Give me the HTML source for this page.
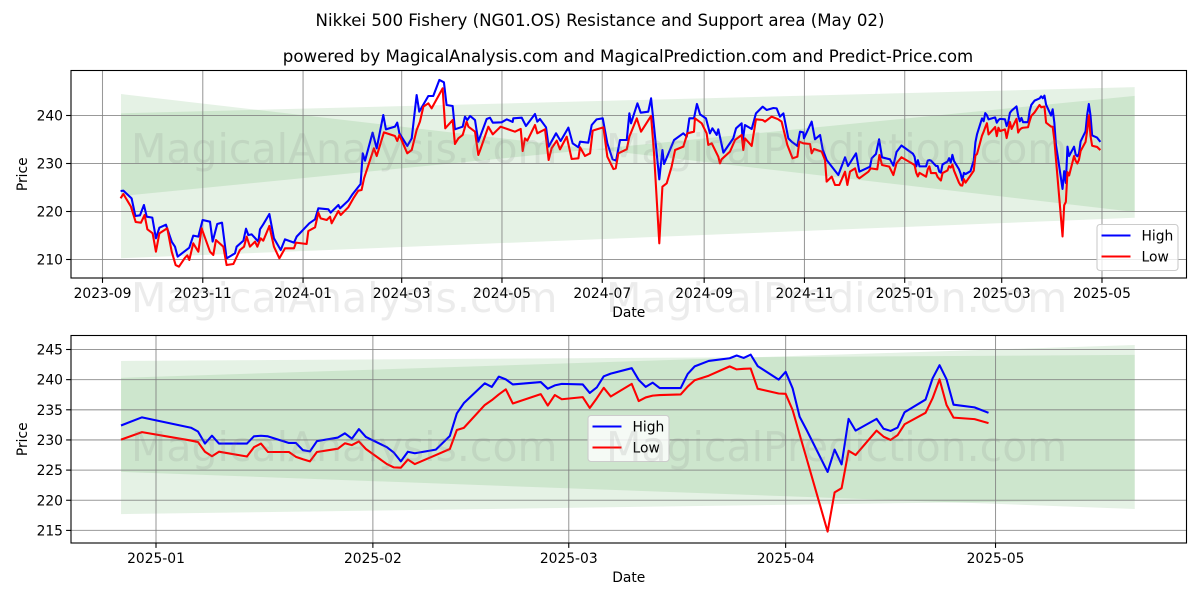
<!DOCTYPE html>
<html>
<head>
<meta charset="utf-8">
<title>Nikkei 500 Fishery (NG01.OS) Resistance and Support area</title>
<style>
html,body{margin:0;padding:0;background:#fff;width:1200px;height:600px;overflow:hidden}
svg{display:block}
text{font-family:"DejaVu Sans","Liberation Sans",sans-serif;fill:#000}
</style>
</head>
<body>
<svg id="figure" xmlns="http://www.w3.org/2000/svg" width="1200" height="600" viewBox="0 0 1200 600">
<rect x="0" y="0" width="1200" height="600" fill="#fff"/>
<g id="chart-top"></g>
<g id="chart-bottom"></g>
<g id="watermarks"></g>
<text x="600" y="26" text-anchor="middle" font-size="16.62">Nikkei 500 Fishery (NG01.OS) Resistance and Support area (May 02)</text>
<text x="628" y="62" text-anchor="middle" font-size="16.62">powered by MagicalAnalysis.com and MagicalPrediction.com and Predict-Price.com</text>
</svg>
<script>
// All days are counted from 2023-09-01.
const earlyHighDays = [11,12.7,17.7,20,22.8,25.2,26.9,30.3,32.5,34.6,38.6,42.1,44.1,45.7,52.8,55.2,58.3,60.9,65.4,67,69.8,72.7,75.5,80.6,81.6,85.7,87.3,88.7,90.7,94.8,95.8,97.8,101.5,104.3,108.4,111,116.5,118.1,125.8,129.3,131.3,137.4,138.8,143.5,144.5,149.5,152.2,157,158.3,159.7,164.3,166.8,170.8,172.4,177.9,179.3,180.6,185.4,188.1,191.1,192.7,198.2,201.2,204.9,207.7,209.3,213,214.4,219.1,220.5,221.9,223.6,226.6,228.6,233.7,235.7,237.4,242.8,245.9,249.5,249.9,255,257.6,263.1,264.5,266.1,269.8,271.4,275.9,278.7,283.4,286,289.5,290.5,295.5,297.6,300.6,304.3,307.1,310.3,312.4,314.8,318.9,320.5,321.5,325.4,327.4,332,333.7,335.5,338.7,340.6,341.6,347.7,353.3,355.4,357,359.8,361.6,363.5,367.1,369.5,371,373.6,374.6,377.7,383.7,385.4,388.8,389.4,390.8,394.9,397.5,401.6,404,408.1,410.1,412.1,414.2,417.2,419.2,422.7,424.3,426.3,426.7,431.4,433.4,436.5,438.1,440.5,447.6,451.7,453.5,458.4,460.4,466.9,467.9,470.5,472.4,474.2,479,481.1];
const earlyHighValues = [224.27,224.34,222.74,219.06,219.2,221.35,218.92,218.72,214.41,216.63,217.26,213.72,212.67,210.59,212.47,214.97,214.76,218.23,217.88,213.72,217.4,217.67,210.24,211.29,212.67,213.92,216.42,215.1,215.24,213.72,216.29,217.33,219.48,214.41,211.98,214.2,213.51,214.76,217.54,218.37,220.66,220.45,219.76,221.35,220.66,222.26,223.65,225.73,232.12,230.59,236.42,233.16,240.1,237.12,237.67,238.51,236.29,233.65,235.24,244.27,240.8,244.06,244.06,247.4,246.91,242.19,241.98,237.12,237.67,239.76,239.06,239.9,239.06,234.55,239.27,239.55,238.51,238.58,239.2,238.65,239.41,239.55,237.81,240.31,238.72,239.27,237.54,233.51,236.29,234.69,237.47,234.2,233.37,234.55,234.34,238.02,239.2,239.41,234.2,230.87,230.59,234.9,234.9,240.45,238.37,242.54,240.59,240.8,243.58,237.67,226.7,232.81,229.9,234.9,236.29,235.59,239.41,239.41,242.4,240.24,239.41,236.29,237.33,235.94,237.12,232.26,235.24,237.33,238.37,234.55,238.02,237.19,240.45,241.84,241.15,241.56,241.49,239.76,240.45,235.24,234.55,233.65,236.63,236.49,235.24,238.72,235.04,235.94,232.95,230.73,227.6,231.29,229.48,232.12,228.3,229.34,231.08,231.98,235.04,231.29,230.87,229.55];
const earlyLowDays = [11,12.7,17.3,20.2,23.4,25.6,27.3,30.5,32.5,34.6,39.4,42.1,44.5,46.5,50.2,51.6,52.8,55.2,58.3,60.3,65.4,67.4,69,73.5,75.5,79.6,83.6,86.1,87.7,89.7,92.8,94.2,96.2,97.8,101.5,104.3,107.6,111,116.5,117.7,124.2,125.2,129.3,131.3,132.7,136.4,138.4,139.4,143.5,144.9,149.5,152.6,155.6,157.6,159.1,165.1,166.8,171.2,177.9,179.3,180.6,185.4,188.1,191.1,193.1,195.2,198.2,200.2,206.9,208.5,213,214.4,216.5,219.1,221.5,222.6,226.6,228.6,230.1,234.7,237.4,242.2,250.9,254.4,255.6,257,258.4,263.1,264.5,269.2,271.4,273.2,276.3,278.3,282.4,285.4,289.5,290.5,293.5,296.6,298.2,304.7,307.1,310.8,312.2,313.8,318.9,320.5,325,327.6,333.7,335.5,338.7,340.6,343.2,346.2,348.3,353.3,355.8,359.8,360.4,364.5,367.5,368.5,370.6,374.6,375.6,376.6,381.7,384.8,388.8,389.8,390.8,394.9,397.5,401.6,403,407,411.1,413.1,416.6,419.8,422.7,423.9,426.3,430.4,431.4,432.8,437.5,439.5,440.5,443.6,445.6,448.2,451.7,453.1,454.7,457.8,459.2,460.4,465.9,467.3,471.3,472.6,474.2,478.6,481.1];
const earlyLowValues = [222.74,223.65,221.01,217.81,217.67,219.27,216.29,215.45,211.63,215.45,216.5,211.63,208.85,208.51,210.38,210.87,209.9,213.37,211.63,216.5,211.63,210.94,214.06,212.67,208.85,209.06,211.98,212.67,214.76,212.67,213.72,212.67,214.41,213.92,216.98,212.67,210.24,212.33,212.33,213.51,213.23,215.94,216.7,219.76,218.58,218.23,218.92,217.54,220.1,219.27,220.87,222.74,224.34,224.48,226.91,233.16,231.56,236.49,235.73,234.69,235.94,232.12,232.81,236.98,238.72,241.84,242.54,241.49,245.66,237.33,239.06,234.06,235.24,235.94,238.72,237.67,236.63,231.77,233.16,237.67,236.08,237.67,236.63,237.19,232.6,235.24,234.76,238.02,236.29,237.12,230.73,233.16,234.76,232.95,235.59,230.94,231.08,233.37,231.56,232.12,236.84,237.54,231.42,228.85,228.99,232.12,232.95,235.59,239.41,236.63,239.9,232.12,213.37,225.18,225.87,229.34,232.81,233.51,236.29,236.63,239.41,238.37,236.29,233.86,234.2,231.42,230.03,230.87,232.47,234.9,235.94,232.81,235.24,233.65,239.2,239.06,238.72,239.76,239.2,238.72,233.86,231.08,231.42,234.55,234.2,234.06,232.12,233.02,232.47,230.73,226.22,227.26,225.52,225.52,228.3,225.52,228.3,228.99,227.26,226.91,228.3,228.99,228.79,231.77,229.69,229.34,227.6];
const recentDays = [483,486,493,494,495,496,497,501,502,503,504,507,508,509,510,511,514,515,516,517,518,521,522,523,524,525,528,530,531,532,535,536,537,538,539,543,544,545,546,549,550,551,552,553,556,557,558,559,560,563,564,565,567,570,571,572,573,574,577,578,579,580,581,584,585,586,587,588,591,592,593,594,595,598,599,600,601,602,605,607];
const recentHigh = [232.4,233.75,232.03,231.4,229.4,230.7,229.4,229.4,230.6,230.7,230.6,229.5,229.5,228.3,228.1,229.8,230.4,231.1,230.2,231.8,230.5,228.8,227.9,226.45,228.05,227.8,228.4,230.65,234.4,236.1,239.4,238.8,240.5,240.05,239.2,239.6,238.5,239.05,239.3,239.2,237.8,238.7,240.55,241,241.9,239.95,238.8,239.5,238.6,238.6,240.95,242.2,243.1,243.55,244,243.6,244.15,242.25,240,241.3,238.55,233.85,231.65,224.7,228.4,225.95,233.5,231.55,233.5,231.85,231.5,232.05,234.6,236.7,240.2,242.4,240.05,235.85,235.4,234.5];
const recentLow = [230.05,231.3,229.9,229.65,228.05,227.3,228.05,227.25,228.8,229.4,228,228,227.2,226.8,226.45,228,228.55,229.45,229.15,229.75,228.5,226,225.45,225.4,226.75,226,227.5,228.5,231.65,232,235.8,236.6,237.55,238.4,236.05,237.6,235.7,237.45,236.75,237.1,235.3,236.9,238.65,237.2,239.3,236.45,237.05,237.35,237.45,237.55,238.85,239.9,240.65,242.2,241.7,241.8,241.85,238.5,237.7,237.65,234.95,230.9,226.9,214.8,221.3,222,228.2,227.5,231.55,230.55,230,230.8,232.6,234.5,236.9,240.05,235.8,233.7,233.45,232.8];

// Channel boundaries: [value at start, value at end]
const topBandDays = [11.25,627.9];
const topBandAUpper = [244.48,219.9];
const topBandALower = [223.2,244.1];
const topBandBUpper = [240.45,245.9];
const topBandBLower = [210.25,218.7];
const bottomBandDays = [483,627.9];
const bottomBandAUpper = [243.1,244.1];
const bottomBandALower = [224.7,218.55];
const bottomBandBUpper = [240.3,245.75];
const bottomBandBLower = [217.7,220.05];

const topXTickDays = [0,61,122,182,243,304,366,427,488,547,608];
const topXTickLabels = ['2023-09','2023-11','2024-01','2024-03','2024-05','2024-07','2024-09','2024-11','2025-01','2025-03','2025-05'];
const topYTicks = [210,220,230,240];
const bottomXTickDays = [488,519,547,578,608];
const bottomXTickLabels = ['2025-01','2025-02','2025-03','2025-04','2025-05'];
const bottomYTicks = [215,220,225,230,235,240,245];
const watermarkRows = [163,312,461];
const watermarkTexts = ['MagicalAnalysis.com','MagicalPrediction.com'];

const NS = 'http://www.w3.org/2000/svg';
function add(tag, attrs, parent) {
  const el = document.createElementNS(NS, tag);
  for (const k in attrs) el.setAttribute(k, attrs[k]);
  parent.appendChild(el);
  return el;
}

function drawChart(cfg) {
  const g = cfg.group;
  const box = cfg.box;
  const X = cfg.x, Y = cfg.y;
  const pts = (days, vals) => days.map((d, i) => X(d).toFixed(2) + ',' + Y(vals[i]).toFixed(2)).join(' ');

  const bgBands = [[cfg.bandAUpper, cfg.bandALower], [cfg.bandBUpper, cfg.bandBLower]];
  bgBands.forEach(function (b) {
    const p = [[cfg.bandDays[0], b[0][0]], [cfg.bandDays[1], b[0][1]], [cfg.bandDays[1], b[1][1]], [cfg.bandDays[0], b[1][0]]]
      .map(q => X(q[0]).toFixed(2) + ',' + Y(q[1]).toFixed(2)).join(' ');
    const el = add('polygon', {points: p, fill: 'green', 'fill-opacity': 0.1, stroke: 'none'}, g);
    
    
  });

  cfg.xDays.forEach(function (d, i) {
    const gx = add('line', {x1: X(d), x2: X(d), y1: box.top, y2: box.bottom, stroke: '#808080', 'stroke-opacity': 0.8, 'stroke-width': 1.04}, g);
    
    
    const tk = add('line', {x1: X(d), x2: X(d), y1: box.bottom, y2: box.bottom + 4.9, stroke: '#000', 'stroke-width': 1.1}, g);
    
    
    const lb = add('text', {x: X(d), y: box.bottom + 20, 'text-anchor': 'middle', 'font-size': 13.85}, g);
    lb.textContent = cfg.xLabels[i];
    
    
  });
  cfg.yTicks.forEach(function (v) {
    const gy = add('line', {x1: box.left, x2: box.right, y1: Y(v), y2: Y(v), stroke: '#808080', 'stroke-opacity': 0.8, 'stroke-width': 1.04}, g);
    
    
    const tk = add('line', {x1: box.left - 4.9, x2: box.left, y1: Y(v), y2: Y(v), stroke: '#000', 'stroke-width': 1.1}, g);
    
    
    const lb = add('text', {x: box.left - 8, y: Y(v) + 5, 'text-anchor': 'end', 'font-size': 13.85}, g);
    lb.textContent = String(v);
    
    
  });

  const hi = add('polyline', {points: pts(cfg.highDays, cfg.highValues), fill: 'none', stroke: '#0000ff', 'stroke-width': 2.08, 'stroke-linejoin': 'round'}, g);
  
  
  const lo = add('polyline', {points: pts(cfg.lowDays, cfg.lowValues), fill: 'none', stroke: '#ff0000', 'stroke-width': 2.08, 'stroke-linejoin': 'round'}, g);
  
  

  const frame = add('rect', {x: box.left, y: box.top, width: box.right - box.left, height: box.bottom - box.top, fill: 'none', stroke: '#000', 'stroke-width': 1.1}, g);
  
  

  const xt = add('text', {x: (box.left + box.right) / 2, y: box.bottom + 39, 'text-anchor': 'middle', 'font-size': 13.85}, g);
  xt.textContent = 'Date';
  
  
  const cy = (box.top + box.bottom) / 2;
  const yt = add('text', {x: 0, y: 0, transform: 'translate(27,' + cy + ') rotate(-90)', 'text-anchor': 'middle', 'font-size': 13.85}, g);
  yt.textContent = 'Price';
  
  

  const L = cfg.legend;
  const lg = add('g', {}, g);
  
  
  const bx = add('rect', {x: L.x, y: L.y, width: 81, height: 46, rx: 3, ry: 3, fill: '#fff', 'fill-opacity': 0.8, stroke: '#cccccc', 'stroke-width': 1.1}, lg);
  
  
  const entries = [['High', '#0000ff', 11], ['Low', '#ff0000', 32]];
  entries.forEach(function (e) {
    const sw = add('line', {x1: L.x + 4.5, x2: L.x + 33.5, y1: L.y + e[2], y2: L.y + e[2], stroke: e[1], 'stroke-width': 2.08}, lg);
    
    
    const tx = add('text', {x: L.x + 44.5, y: L.y + e[2] + 5, 'font-size': 13.85}, lg);
    tx.textContent = e[0];
    
    
  });
}

const topBox = {left: 71, right: 1186.5, top: 70.5, bottom: 278};
const bottomBox = {left: 71, right: 1186.5, top: 335.5, bottom: 543};

drawChart({
  group: document.getElementById('chart-top'),
  box: topBox,
  x: d => 102.5 + 1.6439 * d,
  y: v => 115.5 + (240 - v) * 4.8,
  bandDays: topBandDays,
  bandAUpper: topBandAUpper, bandALower: topBandALower,
  bandBUpper: topBandBUpper, bandBLower: topBandBLower,
  xDays: topXTickDays, xLabels: topXTickLabels, yTicks: topYTicks,
  highDays: earlyHighDays.concat(recentDays),
  highValues: earlyHighValues.concat(recentHigh),
  lowDays: earlyLowDays.concat(recentDays),
  lowValues: earlyLowValues.concat(recentLow),
  legend: {x: 1097, y: 224.5}
});

drawChart({
  group: document.getElementById('chart-bottom'),
  box: bottomBox,
  x: d => 156 + (d - 488) * 6.996,
  y: v => 349.5 + (245 - v) * 6.03,
  bandDays: bottomBandDays,
  bandAUpper: bottomBandAUpper, bandALower: bottomBandALower,
  bandBUpper: bottomBandBUpper, bandBLower: bottomBandBLower,
  xDays: bottomXTickDays, xLabels: bottomXTickLabels, yTicks: bottomYTicks,
  highDays: recentDays, highValues: recentHigh,
  lowDays: recentDays, lowValues: recentLow,
  legend: {x: 588, y: 415.5}
});

const wmGroup = document.getElementById('watermarks');
watermarkRows.forEach(function (baseline) {
  const a = add('text', {x: 131, y: baseline, 'font-size': 41, style: 'fill:#808080;fill-opacity:0.15'}, wmGroup);
  a.textContent = watermarkTexts[0];
  
  
  const b = add('text', {x: 606, y: baseline, 'font-size': 41, style: 'fill:#808080;fill-opacity:0.15'}, wmGroup);
  b.textContent = watermarkTexts[1];
  
  
});
</script>
</body>
</html>
